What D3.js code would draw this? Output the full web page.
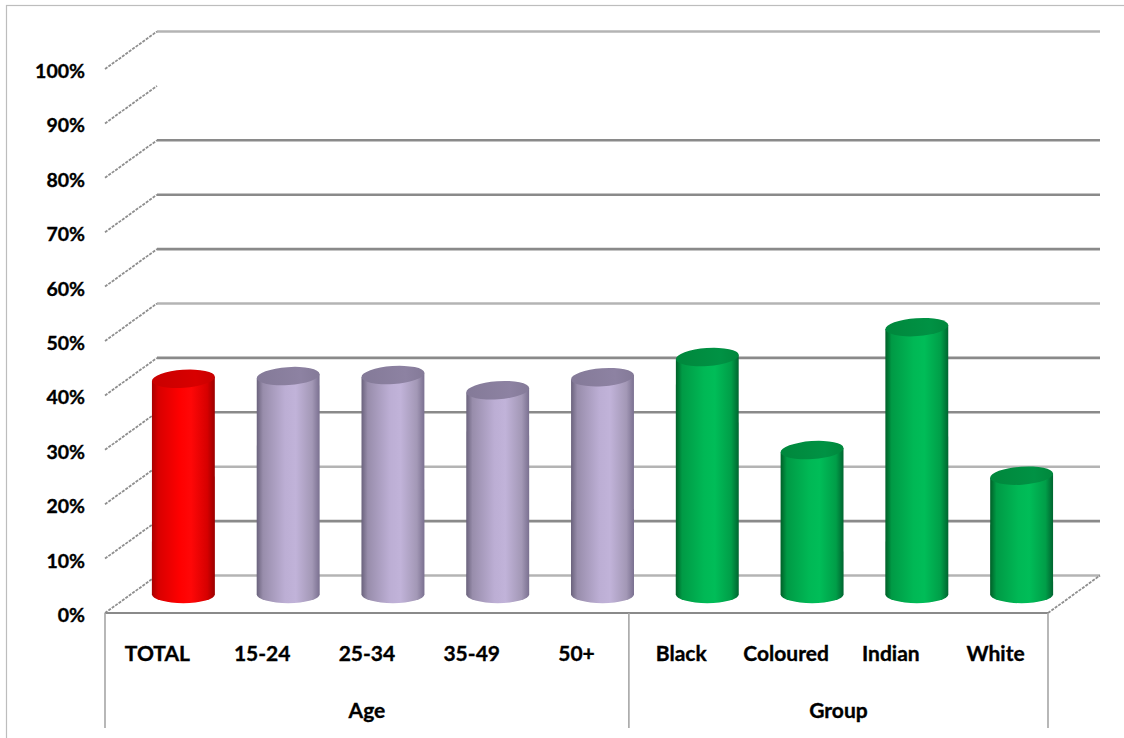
<!DOCTYPE html>
<html>
<head>
<meta charset="utf-8">
<script src="https://cdn.jsdelivr.net/npm/d3@7"></script>
<style>
  html, body { margin: 0; padding: 0; background: #fff; }
  svg { display: block; }
  text { font-family: Lato, "Open Sans", sans-serif; font-weight: 700; fill: #000; stroke: #000; stroke-width: 0.35px; }
</style>
</head>
<body>
<svg id="chart" width="1124" height="738"></svg>
<script>
// ---- data ----
const categories = ["TOTAL", "15-24", "25-34", "35-49", "50+", "Black", "Coloured", "Indian", "White"];
const values = [39.6, 40.1, 40.3, 37.5, 39.9, 43.6, 26.5, 49.1, 21.8];
const colorKeys = ["red", "purple", "purple", "purple", "purple", "green", "green", "green", "green"];
const groups = ["Age", "Group"];
const groupSizes = [5, 4];
const yTicks = [0, 10, 20, 30, 40, 50, 60, 70, 80, 90, 100];
const hiddenGridTicks = [90];

// ---- layout ----
const svg = d3.select("#chart");
const x0 = 105, x1 = 1048, yFloor = 613, yTop = 69;
const depthX = 52, depthY = -37.5;
const axisBottom = 728;

const x = d3.scaleBand().domain(categories).range([x0, x1]).padding(0);
const y = d3.scaleLinear().domain([0, 100]).range([yFloor, yTop]);

// outer border
svg.append("rect").attr("x", 6.5).attr("y", 5.5).attr("width", 1140).attr("height", 760)
  .attr("fill", "none").attr("stroke", "#bdbdbd").attr("stroke-width", 1.2);

// gradients
const defs = svg.append("defs");
const palettes = {
  red:    { body: [["0%", "#a80000"], ["10%", "#d80000"], ["45%", "#ff0000"], ["62%", "#ff0707"], ["88%", "#d60000"], ["100%", "#9a0000"]], top: "#c90000", top2: "#d80000" },
  purple: { body: [["0%", "#6a627c"], ["10%", "#988dab"], ["45%", "#bcaed4"], ["62%", "#c1b3d9"], ["88%", "#a398b6"], ["100%", "#7a7090"]], top: "#847a98", top2: "#8d82a2" },
  green:  { body: [["0%", "#005f28"], ["10%", "#009a45"], ["45%", "#00b855"], ["62%", "#00bd58"], ["88%", "#009e48"], ["100%", "#006530"]], top: "#00873c", top2: "#009244" }
};
Object.entries(palettes).forEach(([k, p]) => {
  const g = defs.append("linearGradient").attr("id", "body-" + k).attr("x1", "0%").attr("x2", "100%").attr("y1", "0%").attr("y2", "0%");
  p.body.forEach(([o, c]) => g.append("stop").attr("offset", o).attr("stop-color", c));
  const t = defs.append("linearGradient").attr("id", "top-" + k).attr("x1", "0%").attr("x2", "100%").attr("y1", "0%").attr("y2", "0%");
  t.append("stop").attr("offset", "0%").attr("stop-color", p.top);
  t.append("stop").attr("offset", "70%").attr("stop-color", p.top2);
  t.append("stop").attr("offset", "100%").attr("stop-color", p.top);
});

// back wall gridlines
svg.append("g").selectAll("line")
  .data(yTicks.filter(t => !hiddenGridTicks.includes(t)))
  .join("line")
  .attr("x1", x0 + depthX).attr("x2", x1 + depthX)
  .attr("y1", d => y(d) + depthY).attr("y2", d => y(d) + depthY)
  .attr("stroke", d => (d === 0 || d === 20 || d === 50 || d === 100) ? "#b4b4b4" : "#8a8a8a")
  .attr("stroke-width", 2.6);

// side diagonals (left wall gridlines)
svg.append("g").selectAll("line")
  .data(yTicks)
  .join("line")
  .attr("x1", x0).attr("x2", x0 + depthX)
  .attr("y1", d => y(d)).attr("y2", d => y(d) + depthY)
  .attr("stroke", "#8e8e8e").attr("stroke-width", 1.8)
  .attr("stroke-dasharray", "3,1.2");

// right floor diagonal
svg.append("line")
  .attr("x1", x1).attr("y1", y(0)).attr("x2", x1 + depthX).attr("y2", y(0) + depthY)
  .attr("stroke", "#8e8e8e").attr("stroke-width", 1.8).attr("stroke-dasharray", "3,1.2");

// y labels
svg.append("g").selectAll("text")
  .data(yTicks)
  .join("text")
  .attr("x", 85).attr("y", d => y(d) + 1.5)
  .attr("text-anchor", "end").attr("dominant-baseline", "central")
  .attr("font-size", 19.5)
  .text(d => d + "%");

// cylinders
const rx = 31.5, ry = 9, tilt = 4;
const midX = depthX / 2, midY = depthY / 2;
const sinT = Math.sin(tilt * Math.PI / 180), cosT = Math.cos(tilt * Math.PI / 180);
const cyl = svg.append("g").selectAll("g")
  .data(categories.map((c, i) => ({ c, v: values[i], k: colorKeys[i] })))
  .join("g");
cyl.append("path")
  .attr("d", d => {
    const cx = x(d.c) + x.bandwidth() / 2 + midX;
    const yb = y(0) + midY;
    const yt = y(d.v) + midY;
    const lx = cx - rx * cosT, rxp = cx + rx * cosT;
    return `M${lx},${yt + rx * sinT} L${cx - rx},${yb} A${rx},${ry} 0 0 0 ${cx + rx},${yb} L${rxp},${yt - rx * sinT} Z`;
  })
  .attr("fill", d => `url(#body-${d.k})`);
cyl.append("ellipse")
  .attr("cx", d => x(d.c) + x.bandwidth() / 2 + midX)
  .attr("cy", d => y(d.v) + midY)
  .attr("rx", rx).attr("ry", ry)
  .attr("transform", d => `rotate(${-tilt},${x(d.c) + x.bandwidth() / 2 + midX},${y(d.v) + midY})`)
  .attr("fill", d => `url(#top-${d.k})`);

// front floor edge
svg.append("line").attr("x1", x0).attr("x2", x1).attr("y1", y(0)).attr("y2", y(0))
  .attr("stroke", "#8a8a8a").attr("stroke-width", 2.2);

// category axis separators
let cum = 0;
const seps = [0];
groupSizes.forEach(s => { cum += s; seps.push(cum); });
svg.append("g").selectAll("line")
  .data(seps)
  .join("line")
  .attr("x1", d => d === categories.length ? x1 : x(categories[d]))
  .attr("x2", d => d === categories.length ? x1 : x(categories[d]))
  .attr("y1", y(0)).attr("y2", axisBottom)
  .attr("stroke", "#a6a6a6").attr("stroke-width", 1.6);

// category labels
svg.append("g").selectAll("text")
  .data(categories)
  .join("text")
  .attr("x", d => x(d) + x.bandwidth() / 2)
  .attr("y", 661)
  .attr("text-anchor", "middle")
  .attr("font-size", 21)
  .text(d => d);

// group labels
svg.append("g").selectAll("text")
  .data(groups)
  .join("text")
  .attr("x", (d, i) => {
    const a = seps[i], b = seps[i + 1];
    const xa = x(categories[a]);
    const xb = b === categories.length ? x1 : x(categories[b]);
    return (xa + xb) / 2;
  })
  .attr("y", 718)
  .attr("text-anchor", "middle")
  .attr("font-size", 21)
  .text(d => d);
</script>
</body>
</html>
